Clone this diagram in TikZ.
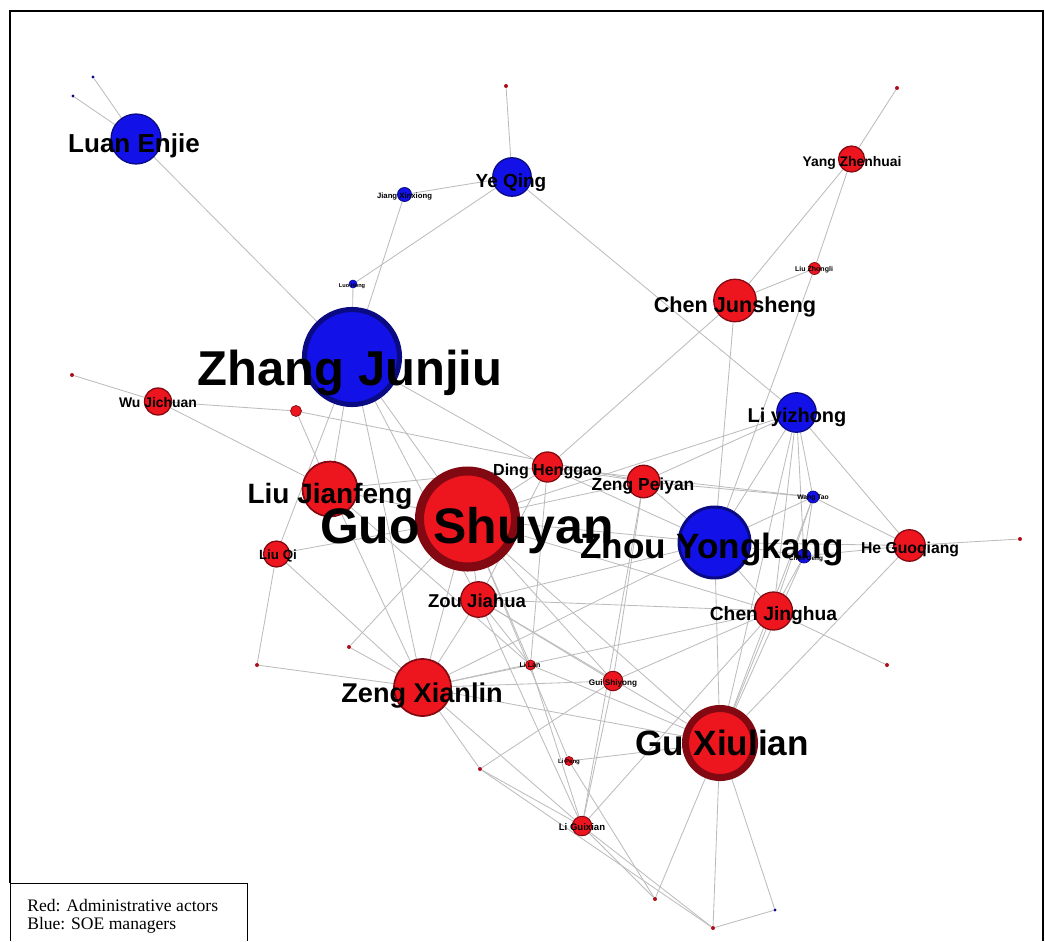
\documentclass[tikz,border=0pt]{standalone}
\usepackage{fontspec}
\setmainfont{Liberation Serif}
\setsansfont{Liberation Sans}
\usetikzlibrary{backgrounds}
\definecolor{adred}{RGB}{238,22,30}
\definecolor{adring}{RGB}{130,8,18}
\definecolor{soeblue}{RGB}{18,18,232}
\definecolor{soering}{RGB}{10,10,130}
\definecolor{tiegray}{RGB}{188,188,188}

\begin{document}
\begin{tikzpicture}[x=0.025cm, y=-0.025cm,
  actor/.style={circle, draw=adring, fill=adred, line width=0.9pt, inner sep=0pt},
  manager/.style={circle, draw=soering, fill=soeblue, line width=0.9pt, inner sep=0pt},
  reddot/.style={circle, fill=adring!60!adred, inner sep=0pt, minimum size=1mm},
  bluedot/.style={circle, fill=soering, inner sep=0pt, minimum size=0.8mm},
  dia/.style={minimum size=#1*0.25mm},
  lbl/.style={font=\sffamily\bfseries\fontsize{#1}{#1}\selectfont, inner sep=0pt, anchor=base},
  tie/.style={draw=tiegray, line width=0.6pt},
  legend/.style={font=\fontsize{12.5}{13}\selectfont, inner sep=0pt, anchor=base west}]
  \useasboundingbox (0,0) rectangle (1045,941);

  % --- frame and legend ---
  \draw[line width=1.3pt] (10,883) -- (10,11) -- (1043,11) -- (1043,941);
  \draw[line width=0.7pt] (10,941) -- (10,883) -- (247,883) -- (247,941);
  \node[legend] (legend-red) at (27,911) {Red: Administrative actors};
  \node[legend] (legend-blue) at (27,929) {Blue: SOE managers};

  % --- SOE managers (blue) ---
  \node[manager, dia=50] (luan) at (136,139) {};
  \node[manager, dia=38.5] (yeq) at (512,177) {};
  \node[manager, dia=14, line width=0.6pt] (jiang) at (404.5,194.5) {};
  \node[manager, dia=8, line width=0.4pt] (luo) at (353,284) {};
  \node[manager, dia=95, line width=3.6pt] (zhangjj) at (352,357) {};
  \node[manager, dia=39.5] (liyz) at (796.5,412.5) {};
  \node[manager, dia=12, line width=0.5pt] (wangtao) at (813,497) {};
  \node[manager, dia=14, line width=0.5pt] (chengeng) at (804,556) {};
  \node[manager, dia=71, line width=2.1pt] (zhouyk) at (714.5,542.5) {};
  \node[bluedot] (b1) at (93,77) {};
  \node[bluedot] (b2) at (73,96) {};
  \node[bluedot] (b3) at (775,910) {};

  % --- administrative actors (red) ---
  \node[actor, dia=26] (yang) at (851.5,159) {};
  \node[actor, dia=12, line width=0.5pt] (liuzl) at (814.5,268.5) {};
  \node[actor, dia=42.5] (chenjs) at (735,300.5) {};
  \node[actor, dia=27] (wujc) at (158,401.5) {};
  \node[actor, dia=11, line width=0.5pt] (rs1) at (296,411) {};
  \node[actor, dia=55, line width=1.2pt] (liujf) at (330,489) {};
  \node[actor, dia=26] (liuqi) at (276.5,554) {};
  \node[actor, dia=96, line width=6.4pt] (guosy) at (467.5,519) {};
  \node[actor, dia=30] (ding) at (547.5,467) {};
  \node[actor, dia=32.5] (zengpy) at (643.5,481.5) {};
  \node[actor, dia=35.5] (zoujh) at (478.5,599.5) {};
  \node[actor, dia=31.5] (hegq) at (909.5,545.5) {};
  \node[actor, dia=38] (chenjh) at (773.5,611) {};
  \node[actor, dia=57, line width=1.2pt] (zengxl) at (422.5,687.5) {};
  \node[actor, dia=10, line width=0.5pt] (lilan) at (530.5,665) {};
  \node[actor, dia=19.5, line width=0.7pt] (guisy) at (613,681) {};
  \node[actor, dia=69, line width=5pt] (guxl) at (720,743) {};
  \node[actor, dia=9, line width=0.5pt] (lipeng) at (569,761) {};
  \node[actor, dia=19.5, line width=0.7pt] (ligx) at (582,826) {};
  \foreach \n/\x/\y in {r1/506/86, r2/897/88, r3/72/375, r4/1020/539, r5/887/665,
                        r6/349/647, r7/257/665, r8/480/769, r9/655/899, r10/713/928}
    \node[reddot] (\n) at (\x,\y) {};

  % --- ties ---
  \begin{scope}[on background layer]
    \foreach \a/\b in {luan/b1, luan/b2, luan/zhangjj,
        yeq/r1, yeq/jiang, yeq/luo, yeq/liyz, jiang/zhangjj, luo/zhangjj,
        yang/r2, yang/chenjs, yang/liuzl, liuzl/chenjs, liuzl/zhouyk,
        chenjs/ding, chenjs/zhouyk,
        wujc/r3, wujc/rs1, wujc/liujf, rs1/liujf, rs1/zengpy,
        zhangjj/liujf, zhangjj/guosy, zhangjj/ding, zhangjj/zoujh, zhangjj/zengxl, zhangjj/liuqi,
        liujf/guosy, liujf/ding, liujf/zengxl, liujf/lilan,
        liuqi/guosy, liuqi/zengxl, liuqi/r7, r7/zengxl, r6/zengxl, r6/guosy,
        guosy/ding, guosy/zengpy, guosy/zhouyk, guosy/zoujh, guosy/zengxl, guosy/lilan,
        guosy/guisy, guosy/chenjh, guosy/liyz, guosy/lipeng, guosy/guxl,
        ding/zengpy, ding/wangtao, ding/zhouyk, ding/lilan, ding/zoujh,
        zengpy/wangtao, zengpy/zhouyk, zengpy/guisy, zengpy/liyz, zengpy/ligx,
        zhouyk/liyz, zhouyk/wangtao, zhouyk/chengeng, zhouyk/hegq, zhouyk/chenjh,
        zhouyk/guxl, zhouyk/zengxl, zhouyk/zoujh,
        liyz/wangtao, liyz/chengeng, liyz/hegq, liyz/chenjh, liyz/guxl,
        wangtao/hegq, wangtao/chenjh, wangtao/guxl, wangtao/chengeng,
        chengeng/hegq, chengeng/guxl, chengeng/chenjh, hegq/r4, hegq/guxl,
        chenjh/r5, chenjh/guxl, chenjh/zengxl, chenjh/zoujh, chenjh/guisy, chenjh/ligx,
        zoujh/zengxl, zoujh/lilan, zoujh/guisy, zoujh/guxl, zoujh/ligx,
        zengxl/guxl, zengxl/guisy, zengxl/lilan, zengxl/r8, zengxl/ligx,
        lilan/guxl, lilan/ligx, guisy/ligx, guisy/r8, r8/ligx, r8/r10,
        lipeng/guxl, lipeng/r9, ligx/r9, ligx/r10,
        guxl/r9, guxl/r10, guxl/b3, b3/r10}
      \draw[tie] (\a) -- (\b);
  \end{scope}

  % --- labels (small first, large on top) ---
  \node[lbl=4] (luo-l) at (352,287) {Luo Hong};
  \node[lbl=4.8] (wangtao-l) at (813,499) {Wang Tao};
  \node[lbl=4.5] (chengeng-l) at (806,560) {Chen Geng};
  \node[lbl=5] (liuzl-l) at (814,271) {Liu Zhongli};
  \node[lbl=5] (lilan-l) at (530,667) {Li Lan};
  \node[lbl=4.3] (lipeng-l) at (569,763) {Li Peng};
  \node[lbl=5.5] (jiang-l) at (404.5,198) {Jiang Xinxiong};
  \node[lbl=5.8] (guisy-l) at (613,685) {Gui Shiyong};
  \node[lbl=6.8] (ligx-l) at (582,830) {Li Guixian};
  \node[lbl=9.9] (yang-l) at (852,166) {Yang Zhenhuai};
  \node[lbl=9.9] (wujc-l) at (158,407) {Wu Jichuan};
  \node[lbl=9.5] (liuqi-l) at (278,559) {Liu Qi};
  \node[lbl=11.4] (ding-l) at (547.5,475) {Ding Henggao};
  \node[lbl=11.2] (hegq-l) at (910,553) {He Guoqiang};
  \node[lbl=12.4] (zengpy-l) at (643,490) {Zeng Peiyan};
  \node[lbl=13.2] (zoujh-l) at (477,607) {Zou Jiahua};
  \node[lbl=13.7] (chenjh-l) at (773.5,620) {Chen Jinghua};
  \node[lbl=13.5] (yeq-l) at (511,187) {Ye Qing};
  \node[lbl=14.2] (liyz-l) at (797,422) {Li yizhong};
  \node[lbl=15.4] (chenjs-l) at (735,312) {Chen Junsheng};
  \node[lbl=18.5] (luan-l) at (134,152) {Luan Enjie};
  \node[lbl=19.9] (liujf-l) at (330,503) {Liu Jianfeng};
  \node[lbl=19.3] (zengxl-l) at (422,702) {Zeng Xianlin};
  \node[lbl=25] (zhouyk-l) at (712,558) {Zhou Yongkang};
  \node[lbl=25] (guxl-l) at (722,755) {Gu Xiulian};
  \node[lbl=34.8] (zhangjj-l) at (350,385) {Zhang Junjiu};
  \node[lbl=35.5] (guosy-l) at (467,543) {Guo Shuyan};
\end{tikzpicture}
\end{document}
